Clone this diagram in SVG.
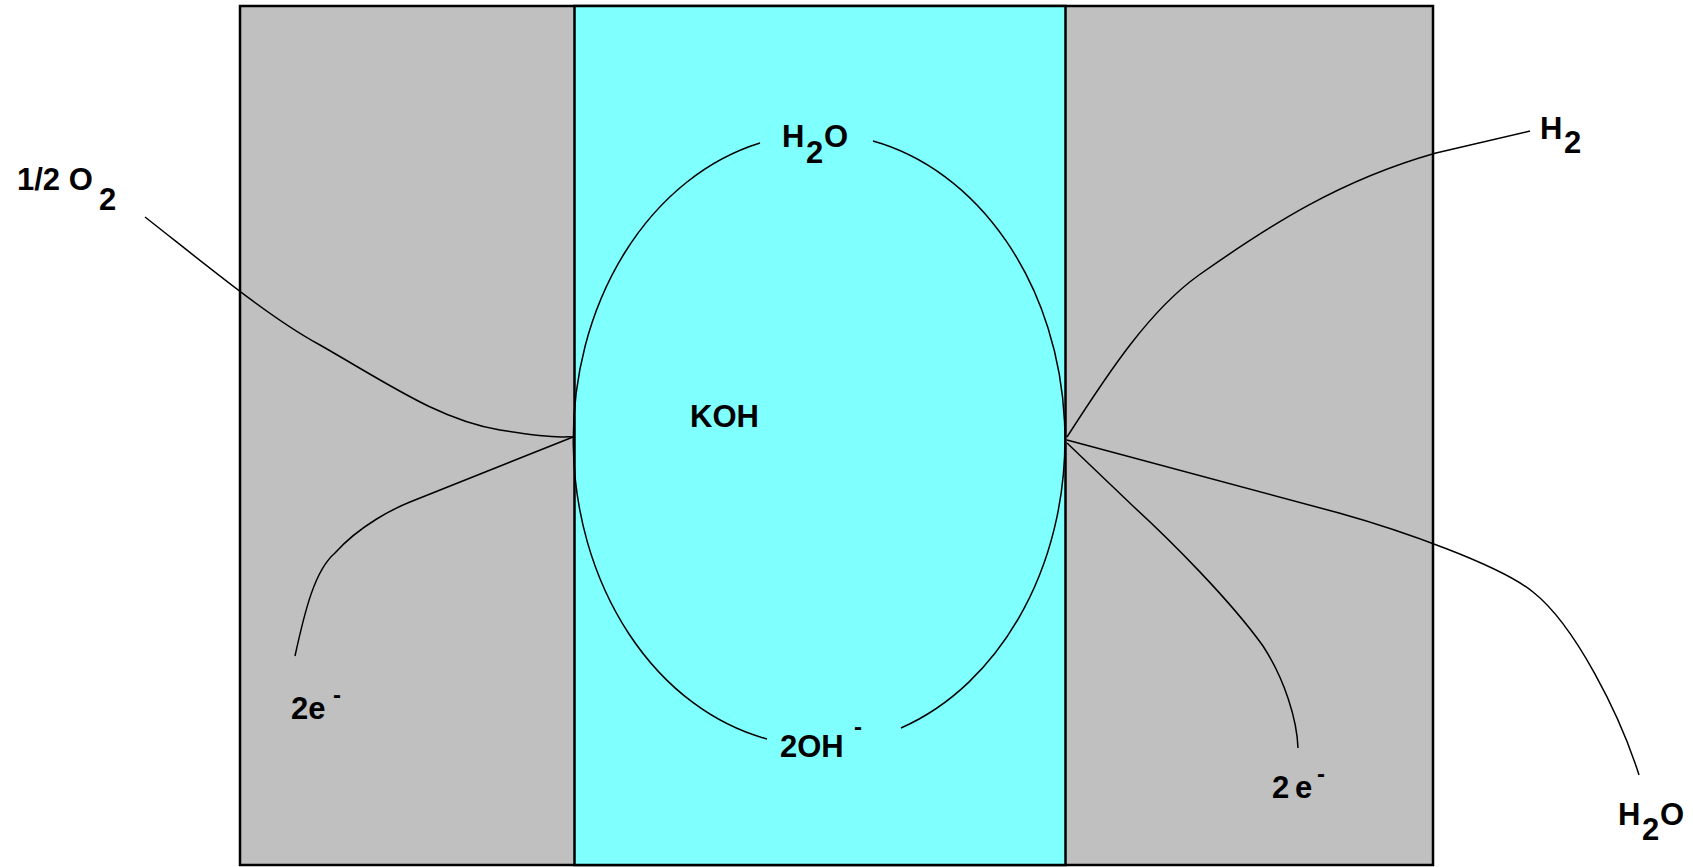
<svg xmlns="http://www.w3.org/2000/svg" width="1693" height="867" viewBox="0 0 1693 867">
<style>
.lbl{font-family:"Liberation Sans",Arial,sans-serif;font-weight:bold;font-size:31px;fill:#000}
.sup{font-size:24px}
.ln{fill:none;stroke:#000;stroke-width:1.5}
</style>
<rect width="1693" height="867" fill="#fff"/>
<g id="cell">
<rect x="240" y="6" width="1193" height="859" fill="#c0c0c0" stroke="#000" stroke-width="2.5"/>
<rect x="574.5" y="6" width="491" height="859" fill="#80ffff" stroke="#000" stroke-width="2.5"/>
</g>
<g id="connectors">
<path class="ln" d="M760 143 A246 306 0 0 0 767 739"/>
<path class="ln" d="M873 141 A246 306 0 0 1 901 728"/>
<path class="ln" d="M145 217 C210 268 270 318 320 345 C390 385 440 420 500 430 S560 436 573 437"/>
<path class="ln" d="M295 656 C305 610 315 570 335 553 C360 525 395 508 410 502 L573 437"/>
<path class="ln" d="M1067 437 C1110 370 1150 310 1199 275 C1270 225 1340 180 1436 153 L1530 131"/>
<path class="ln" d="M1067 440 L1339 513 C1400 530 1500 565 1533 592 C1575 625 1620 715 1639 775"/>
<path class="ln" d="M1067 443 L1134 507 C1170 540 1230 600 1263 646 C1285 680 1297 720 1298 748"/>
</g>
<g id="o2"><text class="lbl" x="17" y="190">1/2 O</text><text class="lbl" x="99" y="210">2</text></g>
<g id="h2o-top"><text class="lbl" x="782" y="147">H</text><text class="lbl" x="806" y="163">2</text><text class="lbl" x="824" y="147">O</text></g>
<g id="koh"><text class="lbl" x="690" y="427">KOH</text></g>
<g id="oh"><text class="lbl" x="780" y="757">2OH</text><text class="lbl sup" x="854" y="735">-</text></g>
<g id="e-left"><text class="lbl" x="291" y="719">2e</text><text class="lbl sup" x="333" y="703">-</text></g>
<g id="e-right"><text class="lbl" x="1272" y="798">2</text><text class="lbl" x="1295" y="798">e</text><text class="lbl sup" x="1317" y="782">-</text></g>
<g id="h2"><text class="lbl" x="1540" y="139">H</text><text class="lbl" x="1564" y="153">2</text></g>
<g id="h2o-bottom"><text class="lbl" x="1618" y="825">H</text><text class="lbl" x="1642" y="840">2</text><text class="lbl" x="1660" y="825">O</text></g>
</svg>
